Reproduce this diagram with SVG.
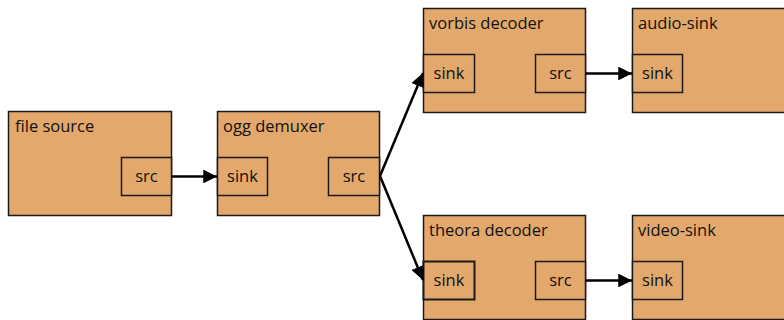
<svg xmlns="http://www.w3.org/2000/svg" width="784" height="320" viewBox="0 0 784 320">
  <style>
    .el { fill: #e3a96c; stroke: #1a1a1a; stroke-width: 1.5; }
    .pad { fill: #e3a96c; stroke: #1a1a1a; stroke-width: 1.5; }
    .t { font-family: "Open Sans", "Liberation Sans", sans-serif; font-size: 16.5px; fill: #111; }
    .pt { font-family: "Open Sans", "Liberation Sans", sans-serif; font-size: 16.5px; fill: #111; text-anchor: middle; }
    .conn { stroke: #000; stroke-width: 2.5; fill: none; marker-end: url(#arrow); }
  </style>
  <defs>
    <marker id="arrow" viewBox="0 0 10 10" refX="10" refY="5" markerWidth="5.5" markerHeight="5.5" orient="auto" markerUnits="strokeWidth">
      <path d="M0,0 L10,5 L0,10 z" fill="#000"/>
    </marker>
  </defs>
  <rect width="784" height="320" fill="#fff"/>

  <g id="file-source">
    <rect class="el" x="8.5" y="111.5" width="163" height="104"/>
    <text class="t" x="15" y="132">file source</text>
    <rect class="pad" x="121.5" y="157.5" width="50" height="38"/>
    <text class="pt" x="146.5" y="182">src</text>
  </g>

  <g id="ogg-demuxer">
    <rect class="el" x="217.5" y="111.5" width="162" height="104"/>
    <text class="t" x="223" y="132">ogg demuxer</text>
    <rect class="pad" x="217.5" y="157.5" width="50" height="38"/>
    <text class="pt" x="242.5" y="182">sink</text>
    <rect class="pad" x="328.5" y="157.5" width="51" height="38"/>
    <text class="pt" x="354" y="182">src</text>
  </g>

  <g id="vorbis-decoder">
    <rect class="el" x="423.5" y="8.5" width="162" height="104"/>
    <text class="t" x="429" y="29">vorbis decoder</text>
    <rect class="pad" x="423.5" y="54.5" width="51" height="38"/>
    <text class="pt" x="449" y="79">sink</text>
    <rect class="pad" x="535.5" y="54.5" width="50" height="38"/>
    <text class="pt" x="560.5" y="79">src</text>
  </g>

  <g id="audio-sink">
    <rect class="el" x="632.5" y="8.5" width="162" height="104"/>
    <text class="t" x="638" y="29">audio-sink</text>
    <rect class="pad" x="632.5" y="54.5" width="50" height="38"/>
    <text class="pt" x="657.5" y="79">sink</text>
  </g>

  <g id="theora-decoder">
    <rect class="el" x="423.5" y="215.5" width="162" height="104"/>
    <text class="t" x="429" y="236">theora decoder</text>
    <rect class="pad" x="423.5" y="261.5" width="51" height="38" style="stroke-width:2"/>
    <text class="pt" x="449" y="286">sink</text>
    <rect class="pad" x="535.5" y="261.5" width="50" height="38"/>
    <text class="pt" x="560.5" y="286">src</text>
  </g>

  <g id="video-sink">
    <rect class="el" x="632.5" y="215.5" width="162" height="104"/>
    <text class="t" x="638" y="236">video-sink</text>
    <rect class="pad" x="632.5" y="261.5" width="50" height="38"/>
    <text class="pt" x="657.5" y="286">sink</text>
  </g>

  <g id="connectors">
    <line class="conn" x1="172" y1="176.5" x2="217" y2="176.5"/>
    <line class="conn" x1="380" y1="176" x2="423" y2="73"/>
    <line class="conn" x1="380" y1="176" x2="423" y2="280"/>
    <line class="conn" x1="586" y1="73.5" x2="632" y2="73.5"/>
    <line class="conn" x1="586" y1="280.5" x2="632" y2="280.5"/>
  </g>
</svg>
